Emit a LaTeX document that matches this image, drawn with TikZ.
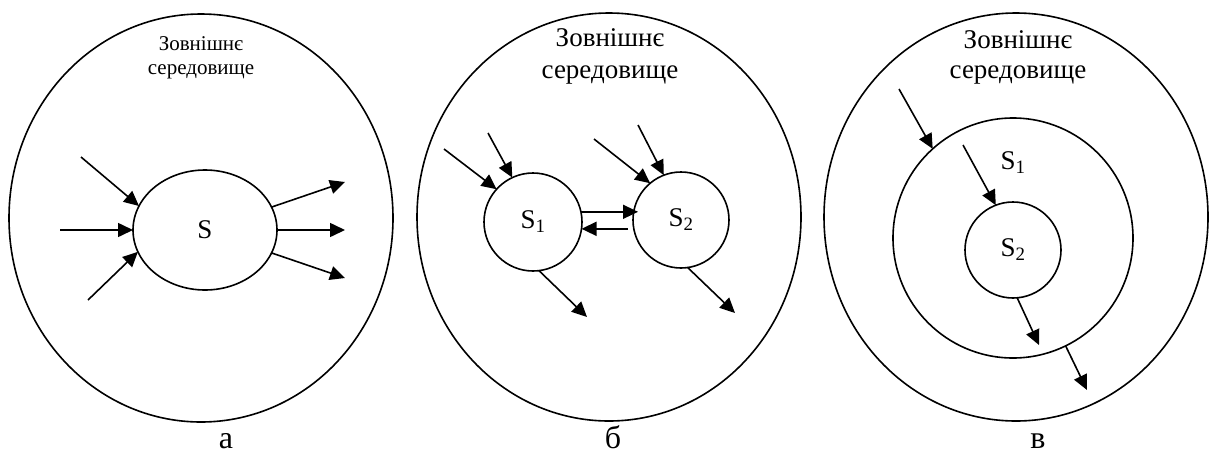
\documentclass[tikz,border=0pt]{standalone}
\usepackage{fontspec}
\setmainfont{Liberation Serif}
\usetikzlibrary{arrows.meta,shapes.geometric,positioning}
\definecolor{InkBlack}{RGB}{0,0,0}

\tikzset{
  envring/.style={draw=InkBlack,ellipse,line width=1.6pt,inner sep=0pt,outer sep=0pt,
    minimum width=384pt,minimum height=408pt},
  sysring/.style={draw=InkBlack,circle,line width=1.6pt,inner sep=0pt,outer sep=0pt,
    minimum size=#1,font=\fontsize{27}{31}\selectfont},
  envtext/.style={align=center,font=\fontsize{27}{32}\selectfont},
  caption/.style={anchor=base,inner sep=0pt,font=\fontsize{32}{36}\selectfont},
  flow/.style={->,line width=1.6pt,InkBlack}
}

\begin{document}
\begin{tikzpicture}[x=1pt,y=-1pt,>={Triangle[length=15pt,width=14pt]}]
  \useasboundingbox (0,0) rectangle (1210,456);

  % a
  \node[envring] (envA) at (201,218) {};
  \node[envtext,font=\fontsize{21}{24}\selectfont] (txtA) at (201,58) {Зовнішнє\\середовище};
  \node[draw=InkBlack,ellipse,line width=1.6pt,inner sep=0pt,outer sep=0pt,
    minimum width=144pt,minimum height=120pt,font=\fontsize{27}{31}\selectfont] (S) at (205,230) {S};
  \coordinate (inA1) at (81,157);
  \coordinate (inA2) at (60,230);
  \coordinate (inA3) at (88,300);
  \coordinate (outA1) at (345,182);
  \coordinate (outA2) at (345,230);
  \coordinate (outA3) at (345,278);
  \foreach \c/\ang in {inA1/160,inA2/180,inA3/198}
    \draw[flow] (\c) -- (S.\ang);
  \foreach \c/\ang in {outA1/19,outA2/0,outA3/-19}
    \draw[flow] (S.\ang) -- (\c);
  \node[caption] (capA) at (226,448) {а};

  % б
  \node[envring] (envB) at (609,217) {};
  \node[envtext] (txtB) at (610,56) {Зовнішнє\\середовище};
  \node[sysring=98pt] (S1) at (533,222) {S\textsubscript{1}};
  \node[sysring=96pt] (S2) at (681,220) {S\textsubscript{2}};
  \coordinate (inB1) at (444,149);
  \coordinate (inB2) at (488,133);
  \coordinate (inB3) at (594,139);
  \coordinate (inB4) at (638,125);
  \coordinate (outB1) at (587,317);
  \coordinate (outB2) at (735,313);
  \foreach \c/\ang in {inB1/138,inB2/115}
    \draw[flow] (\c) -- (S1.\ang);
  \foreach \c/\ang in {inB3/130,inB4/111}
    \draw[flow] (\c) -- (S2.\ang);
  \draw[flow] (S1.12) -- ([xshift=5pt]S2.west |- S1.12);
  \draw[flow] ([xshift=-5pt]S2.west |- S1.-8) -- (S1.-8);
  \draw[flow] (S1.-83) -- (outB1);
  \draw[flow] (S2.-82) -- (outB2);
  \node[caption] (capB) at (613,448) {б};

  % в
  \node[envring] (envC) at (1016,217) {};
  \node[envtext,font=\fontsize{27}{30}\selectfont] (txtC) at (1018,57) {Зовнішнє\\середовище};
  \node[sysring=240pt] (C1) at (1013,238) {};
  \node[sysring=96pt] (C2) at (1013,250) {S\textsubscript{2}};
  \node[font=\fontsize{27}{31}\selectfont] (lblC1) at (1013,163) {S\textsubscript{1}};
  \coordinate (inC1) at (899,89);
  \coordinate (inC2) at (963,145);
  \coordinate (outC1) at (1039,345);
  \coordinate (outC2) at (1087,390);
  \draw[flow] (inC1) -- (C1.132);
  \draw[flow] (inC2) -- (C2.111);
  \draw[flow] (C2.-85) -- (outC1);
  \draw[flow] (C1.-64) -- (outC2);
  \node[caption] (capC) at (1038,448) {в};
\end{tikzpicture}
\end{document}
